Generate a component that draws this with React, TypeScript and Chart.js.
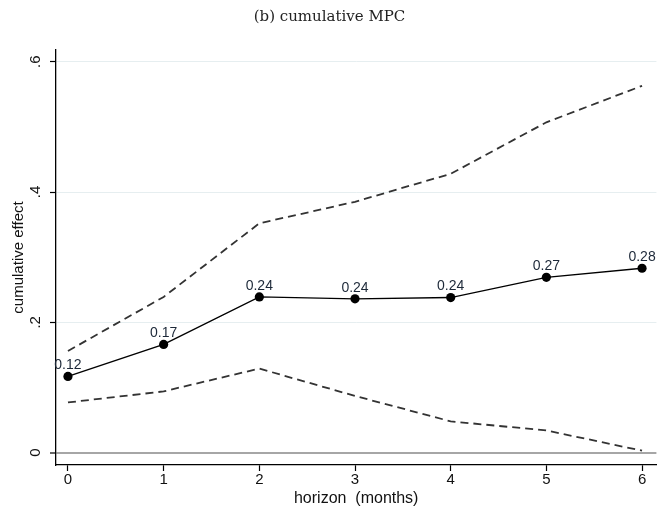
import React, { useEffect, useRef } from 'react';
import { Chart, registerables } from 'chart.js';

Chart.register(...registerables);

const horizons = [0, 1, 2, 3, 4, 5, 6];
const estimate = [0.117, 0.166, 0.239, 0.236, 0.238, 0.269, 0.283];
const estimateLabels = ['0.12', '0.17', '0.24', '0.24', '0.24', '0.27', '0.28'];
const upperCI = [0.156, 0.239, 0.352, 0.385, 0.428, 0.507, 0.563];
const lowerCI = [0.077, 0.094, 0.129, 0.087, 0.048, 0.034, 0.003];
const yTicks = [0, 0.2, 0.4, 0.6];
const xTicks = [0, 1, 2, 3, 4, 5, 6];

const titleText = '(b) cumulative MPC';
const xTitle = 'horizon  (months)';
const yTitle = 'cumulative effect';

const SANS = '"Liberation Sans", Arial, Helvetica, sans-serif';

const pts = (vals: number[]) => horizons.map((h, i) => ({ x: h, y: vals[i] }));

const pointLabelPlugin = {
  id: 'pointLabels',
  afterDatasetsDraw(chart: any) {
    const meta = chart.getDatasetMeta(2);
    const ctx = chart.ctx;
    ctx.save();
    ctx.font = `14px ${SANS}`;
    ctx.fillStyle = '#1c2838';
    ctx.textAlign = 'center';
    ctx.textBaseline = 'bottom';
    meta.data.forEach((pt: any, i: number) => {
      ctx.fillText(estimateLabels[i], pt.x, pt.y - 4);
    });
    ctx.restore();
  },
};

export default function App() {
  const ref = useRef<HTMLCanvasElement>(null);
  useEffect(() => {
    if (!ref.current) return;
    const ciStyle = {
      borderColor: '#333333',
      borderWidth: 1.8,
      borderDash: [8, 5],
      pointRadius: 0,
      fill: false,
      tension: 0,
    };
    const chart = new Chart(ref.current, {
      type: 'line',
      data: {
        datasets: [
          { label: 'upper', data: pts(upperCI), ...ciStyle },
          { label: 'lower', data: pts(lowerCI), ...ciStyle },
          {
            label: 'estimate',
            data: pts(estimate),
            borderColor: '#000',
            borderWidth: 1.4,
            pointRadius: 4.6,
            pointBackgroundColor: '#000',
            pointBorderColor: '#000',
            pointBorderWidth: 0,
            fill: false,
            tension: 0,
          },
        ],
      },
      options: {
        responsive: false,
        animation: false,
        events: [],
        layout: { padding: { left: 0, right: 2, top: 0, bottom: 0 } },
        plugins: {
          legend: { display: false },
          tooltip: { enabled: false },
          title: {
            display: true,
            text: titleText,
            color: '#222',
            font: { family: '"DejaVu Serif", serif', size: 15, weight: 'normal' },
            padding: { top: 8, bottom: 24 },
          },
        },
        scales: {
          x: {
            type: 'linear',
            min: -0.125,
            max: 6.15,
            afterBuildTicks: (s: any) => {
              s.ticks = xTicks.map((v) => ({ value: v }));
            },
            afterFit: (s: any) => {
              s.height = 46;
            },
            ticks: {
              color: '#111',
              font: { family: SANS, size: 15 },
              padding: 0,
              maxRotation: 0,
              minRotation: 0,
              callback: (v: any) => String(v),
            },
            grid: {
              drawOnChartArea: false,
              drawTicks: true,
              tickLength: 6,
              tickColor: '#000',
              tickWidth: 1.2,
            },
            border: { display: true, color: '#000', width: 1.3 },
            title: {
              display: true,
              text: xTitle,
              color: '#111',
              font: { family: SANS, size: 16 },
              padding: { top: 0, bottom: 3 },
            },
          },
          y: {
            type: 'linear',
            min: -0.019,
            max: 0.618,
            afterBuildTicks: (s: any) => {
              s.ticks = yTicks.map((v) => ({ value: v }));
            },
            afterFit: (s: any) => {
              s.width = 56;
            },
            ticks: {
              color: '#111',
              font: { family: SANS, size: 15 },
              padding: 8,
              minRotation: 90,
              maxRotation: 90,
              crossAlign: 'center',
              callback: (v: any) => (v === 0 ? '0' : String(Math.round(v * 10) / 10).replace(/^0/, '')),
            },
            grid: {
              drawOnChartArea: true,
              drawTicks: true,
              tickLength: 6,
              tickColor: '#000',
              tickWidth: 1.2,
              color: (c: any) => (c.tick && c.tick.value === 0 ? '#a6a6a6' : '#e6eef0'),
              lineWidth: (c: any) => (c.tick && c.tick.value === 0 ? 2 : 1),
            },
            border: { display: true, color: '#000', width: 1.3 },
            title: {
              display: true,
              text: yTitle,
              color: '#111',
              font: { family: SANS, size: 15 },
              padding: { top: 10, bottom: 0 },
            },
          },
        },
      },
      plugins: [pointLabelPlugin],
    } as any);
    return () => chart.destroy();
  }, []);
  return (
    <div style={{ position: 'absolute', left: 0, top: 0, width: 661, height: 511, background: '#fff' }}>
      <canvas ref={ref} width={661} height={511} style={{ display: 'block' }} />
    </div>
  );
}
